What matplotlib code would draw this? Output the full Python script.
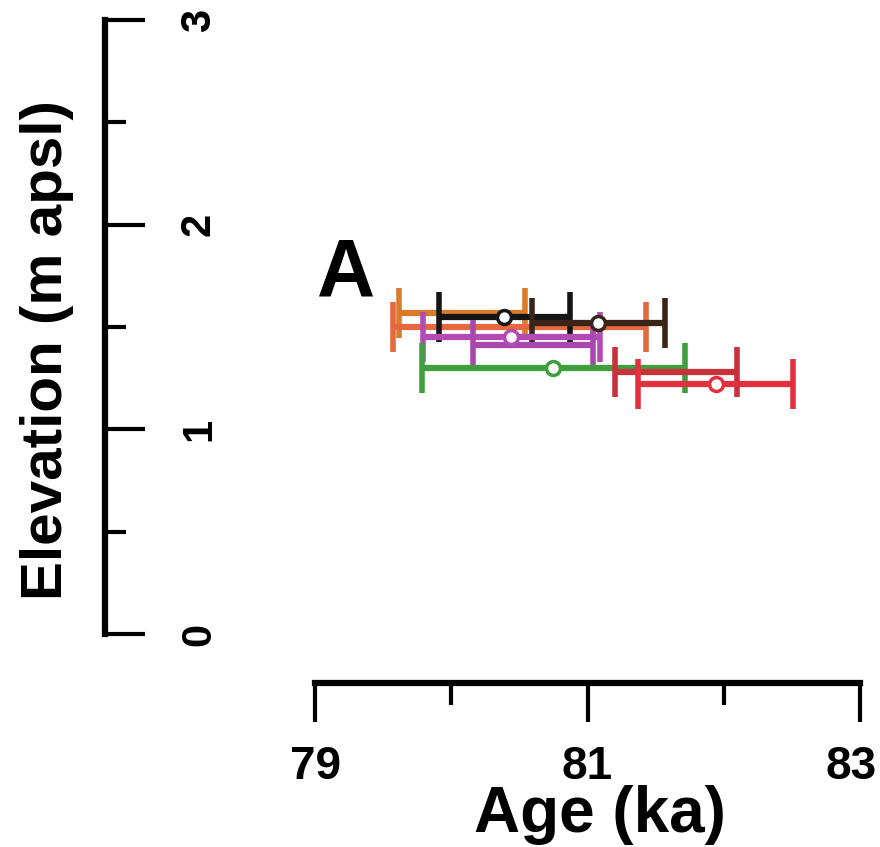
import matplotlib
matplotlib.use("Agg")
import matplotlib.pyplot as plt
from matplotlib.transforms import ScaledTranslation

# -----------------------------------------------------------
# datos: edad (ka), error, elevacion (m apsl)
# -----------------------------------------------------------

edades = [80.08, 80.50, 80.39, 81.08, 80.44, 80.60, 80.75, 81.65, 81.94]
errores = [0.46, 0.93, 0.48, 0.49, 0.65, 0.44, 0.965, 0.45, 0.57]
elevaciones = [1.57, 1.50, 1.55, 1.52, 1.45, 1.41, 1.30, 1.28, 1.22]
colores = ["#d97b2a", "#e5683f", "#151515", "#3b2418", "#b24cb4",
           "#a847ad", "#3f9f3f", "#c8303a", "#e2303e"]
con_circulo = [False, False, True, True, True, False, True, False, True]

ticks_x = [79, 81, 83]
ticks_x_menores = [80, 82]
ticks_y = [0, 1, 2, 3]
ticks_y_menores = [0.5, 1.5, 2.5]

fig = plt.figure(figsize=(8.8, 8.47), dpi=100)
ax = fig.add_axes([105 / 880, 1 - 634 / 847, 755 / 880, 614 / 847])

for x, e, y, c, circ in zip(edades, errores, elevaciones, colores, con_circulo):
    ax.errorbar(x, y, xerr=e, fmt="none", ecolor=c, elinewidth=4.5,
                capsize=18, capthick=4, zorder=2)
    if circ:
        ax.plot(x, y, "o", mfc="white", mec=c, ms=10, mew=2.5, zorder=3)

ax.set_xlim(79 - 210 / 136.25, 83)
ax.set_ylim(0, 3)

for s in ["top", "right"]:
    ax.spines[s].set_visible(False)
ax.spines["left"].set_linewidth(4.5)
ax.spines["left"].set_bounds(0, 3)
ax.spines["bottom"].set_linewidth(4.5)
ax.spines["bottom"].set_bounds(79, 83)
ax.spines["bottom"].set_position(("outward", 35))

ax.set_xticks(ticks_x)
ax.set_xticklabels([str(t) for t in ticks_x])
ax.set_xticks(ticks_x_menores, minor=True)
ax.set_yticks(ticks_y)
ax.set_yticklabels([str(t) for t in ticks_y])
ax.set_yticks(ticks_y_menores, minor=True)

ax.tick_params(axis="x", which="major", direction="out", length=28, width=3,
               pad=17, labelsize=33)
ax.tick_params(axis="x", which="minor", direction="out", length=16, width=3)
ax.tick_params(axis="y", which="major", direction="in", length=29, width=3,
               pad=-82, labelsize=30, labelrotation=90)
ax.tick_params(axis="y", which="minor", direction="in", length=15, width=3)

for lab in ax.get_xticklabels() + ax.get_yticklabels():
    lab.set_fontfamily("Liberation Sans")
    lab.set_fontweight("bold")
for lab in ax.get_yticklabels():
    lab.set_va("center")

# el "83" queda pegado al borde derecho, como en el original
ult = ax.get_xticklabels()[-1]
ult.set_ha("right")
ult.set_transform(ult.get_transform() +
                  ScaledTranslation(0.17, 0, fig.dpi_scale_trans))

ax.set_ylabel("Elevation (m apsl)", fontsize=42, fontweight="bold",
              family="Liberation Sans")
ax.yaxis.set_label_coords(-0.041, 0.4625)

fig.text(600 / 880, 1 - 815 / 847, "Age (ka)", fontsize=46,
         fontweight="bold", family="Liberation Sans", ha="center", va="center")

ax.text(79.23, 1.755, "A", fontsize=58, fontweight="bold",
        family="Liberation Sans", ha="center", va="center")

fig.savefig("out.png", dpi=100)
